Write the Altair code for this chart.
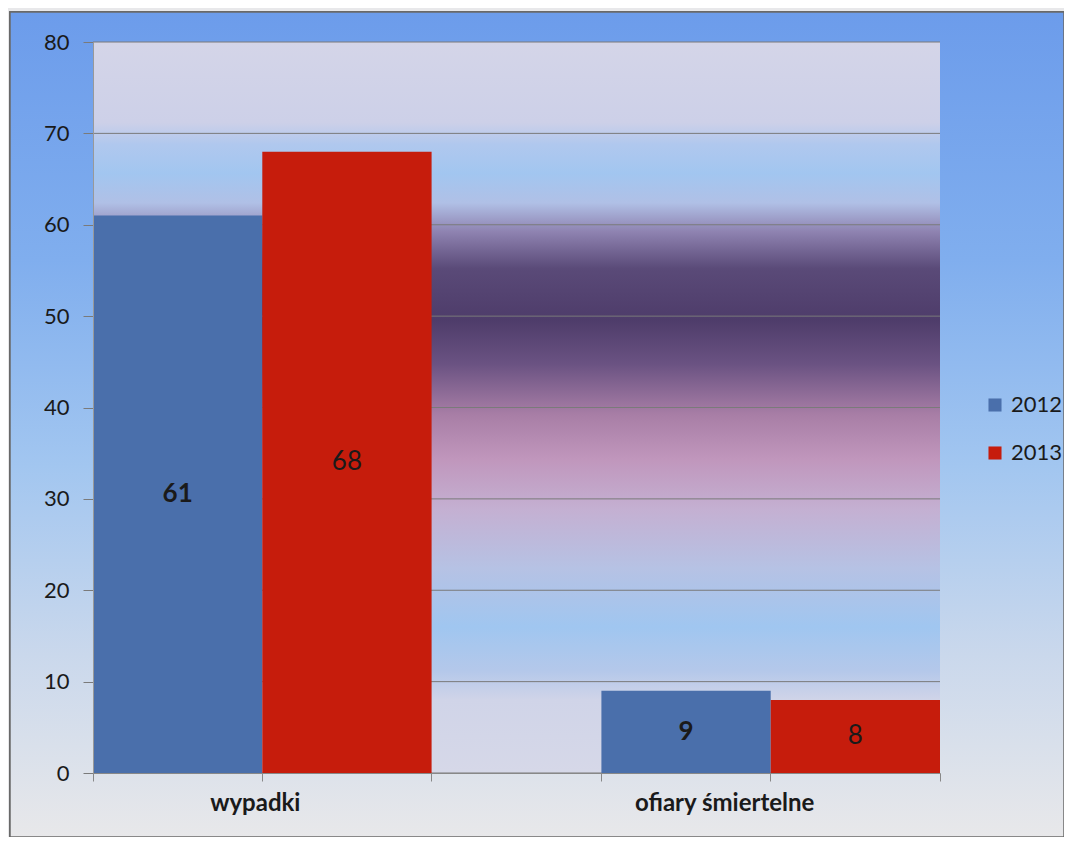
import altair as alt
import pandas as pd

categories = ["wypadki", "ofiary śmiertelne"]
years = ["2012", "2013"]
values_2012 = [61, 9]
values_2013 = [68, 8]
y_ticks = [0, 10, 20, 30, 40, 50, 60, 70, 80]

rows = []
for c, v in zip(categories, values_2012):
    rows.append({"kat": c, "rok": "2012", "val": v})
for c, v in zip(categories, values_2013):
    rows.append({"kat": c, "rok": "2013", "val": v})
df = pd.DataFrame(rows)
grid_df = pd.DataFrame({"t": y_ticks})

W, H = 847, 731
FONT = "Lato"

outer_grad = alt.LinearGradient(
    gradient="linear", x1=0, y1=0, x2=0, y2=1,
    stops=[
        alt.GradientStop(color="#6c9ceb", offset=0),
        alt.GradientStop(color="#80aeee", offset=0.3),
        alt.GradientStop(color="#a2c6f0", offset=0.55),
        alt.GradientStop(color="#cad8ec", offset=0.78),
        alt.GradientStop(color="#e8e8ea", offset=1),
    ],
)
plot_grad = alt.LinearGradient(
    gradient="linear", x1=0, y1=0, x2=0, y2=1,
    stops=[
        alt.GradientStop(color="#d4d5e8", offset=0),
        alt.GradientStop(color="#cdd0e8", offset=0.11),
        alt.GradientStop(color="#b0c8ee", offset=0.14),
        alt.GradientStop(color="#a2c6f0", offset=0.18),
        alt.GradientStop(color="#b0c0e6", offset=0.22),
        alt.GradientStop(color="#8e82b0", offset=0.26),
        alt.GradientStop(color="#5a4a78", offset=0.31),
        alt.GradientStop(color="#4e3c6a", offset=0.38),
        alt.GradientStop(color="#6a5282", offset=0.44),
        alt.GradientStop(color="#a87ea6", offset=0.51),
        alt.GradientStop(color="#c096bc", offset=0.57),
        alt.GradientStop(color="#c4b0d2", offset=0.64),
        alt.GradientStop(color="#b6c2e4", offset=0.72),
        alt.GradientStop(color="#a0c6f0", offset=0.80),
        alt.GradientStop(color="#b4c8ea", offset=0.86),
        alt.GradientStop(color="#d0d4e8", offset=0.90),
        alt.GradientStop(color="#d6d8e8", offset=1),
    ],
)

outer_bg = alt.Chart(df).mark_rect(fill=outer_grad, stroke="#6a6a6a", strokeWidth=1.5).encode(
    x=alt.value(-83), x2=alt.value(971), y=alt.value(-30), y2=alt.value(795)
)
plot_bg = alt.Chart(df).mark_rect(fill=plot_grad).encode(
    x=alt.value(0), x2=alt.value(W), y=alt.value(0), y2=alt.value(H)
)

xscale = alt.Scale(domain=categories, paddingInner=0.334, paddingOuter=0)
xoff = alt.XOffset("rok:N", scale=alt.Scale(domain=years, paddingInner=0, paddingOuter=0))
yscale = alt.Scale(domain=[0, 80])
y_axis = alt.Axis(title=None, values=y_ticks, labelFont=FONT,
                  labelFontSize=22, labelColor="#1a1a1a", labelPadding=14,
                  tickSize=10, tickColor="#7a7a7a", grid=False,
                  domainColor="#999999", zindex=1)

grid = alt.Chart(grid_df).mark_rule(color="#7a7a7a", strokeWidth=1).encode(
    y=alt.Y("t:Q", scale=yscale, axis=y_axis),
    x=alt.value(0), x2=alt.value(W),
)

base = alt.Chart(df)

bars = base.mark_bar().encode(
    x=alt.X("kat:N", sort=categories, scale=xscale,
            axis=alt.Axis(title=None, labelAngle=0, labelFont=FONT, labelFontSize=24,
                          labelFontWeight="bold", labelColor="#1a1a1a", labelPadding=10,
                          labelLimit=500,
                          labelOffset={"condition": {"test": "datum.value == 'ofiary śmiertelne'", "value": -46},
                                       "value": -7},
                          domainColor="#888888", tickColor="#888888", tickSize=8,
                          orient="bottom", zindex=1)),
    xOffset=xoff,
    y=alt.Y("val:Q", scale=yscale, axis=y_axis),
    color=alt.Color("rok:N", scale=alt.Scale(domain=years, range=["#4a6fab", "#c61c0c"]),
                    legend=alt.Legend(title=None, orient="none", legendX=891, legendY=352,
                                      symbolType="square", symbolSize=170,
                                      symbolStrokeWidth=0, labelFont=FONT, labelFontSize=22,
                                      labelColor="#1a1a1a", rowPadding=26, labelOffset=5)),
)

lab12 = base.transform_filter("datum.rok == '2012'").transform_calculate(mid="datum.val/2").mark_text(
    font=FONT, fontSize=26, fontWeight="bold", color="#1a1a1a"
).encode(
    x=alt.X("kat:N", sort=categories, scale=xscale,
            axis=alt.Axis(title=None, labels=False, domain=False, grid=False, bandPosition=0,
                          tickColor="#888888", tickSize=8, orient="bottom", zindex=1)),
    xOffset=xoff,
    y=alt.Y("mid:Q", scale=yscale, axis=y_axis),
    text="val:Q",
)
lab13 = base.transform_filter("datum.rok == '2013'").transform_calculate(mid="datum.val/2").mark_text(
    font=FONT, fontSize=26, color="#1a1a1a"
).encode(
    x=alt.X("kat:N", sort=categories, scale=xscale,
            axis=alt.Axis(title=None, labels=False, domain=False, grid=False, bandPosition=1,
                          tickColor="#888888", tickSize=8, orient="bottom", zindex=1)),
    xOffset=xoff,
    y=alt.Y("mid:Q", scale=yscale, axis=y_axis),
    text="val:Q",
)

chart = alt.layer(outer_bg, plot_bg, grid, bars, lab12, lab13).resolve_axis(x="independent").properties(
    width=W, height=H,
    autosize=alt.AutoSizeParams(type="none"),
    padding={"left": 85, "top": 34, "right": 124, "bottom": 64},
).configure_view(stroke=None).configure(background="#e8e8ea")

chart.save("out.html", embed_options={"renderer": "svg", "actions": False})
